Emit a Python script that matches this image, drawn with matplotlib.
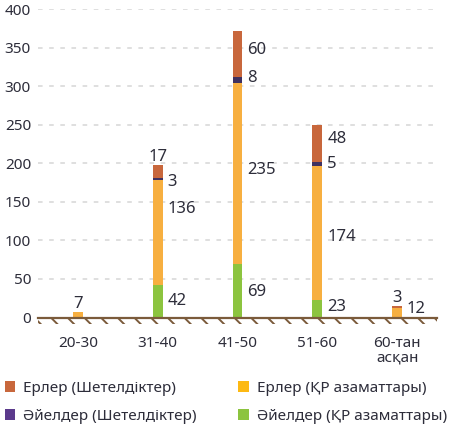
import matplotlib
matplotlib.use("Agg")
import matplotlib.pyplot as plt
from matplotlib.patches import Rectangle, Patch
import numpy as np

plt.rcParams['font.family'] = ['Noto Sans', 'DejaVu Sans']
plt.rcParams['hatch.linewidth'] = 1.4

categories = ["20-30", "31-40", "41-50", "51-60", "60-тан\nасқан"]
women_kz = [0, 42, 69, 23, 0]      # Әйелдер (ҚР азаматтары)
men_kz = [7, 136, 235, 174, 12]    # Ерлер (ҚР азаматтары)
women_for = [0, 3, 8, 5, 0]        # Әйелдер (Шетелдіктер)
men_for = [0, 17, 60, 48, 3]       # Ерлер (Шетелдіктер)
yticks = [0, 50, 100, 150, 200, 250, 300, 350, 400]

labels = ["Ерлер (Шетелдіктер)", "Әйелдер (Шетелдіктер)",
          "Ерлер (ҚР азаматтары)", "Әйелдер (ҚР азаматтары)"]

c_green = "#8CC43F"
c_orange = "#F7AF40"
c_purple = "#3F3160"
c_brown = "#C8673C"
leg_colors = ["#C8673C", "#5B3A8C", "#FDB913", "#8CC43F"]
txt = "#2D2D3A"

fig = plt.figure(figsize=(4.61, 4.40), dpi=100)
ax = fig.add_axes([38/461, 1-317.5/440, 399/461, 308.2/440])

x = np.arange(len(categories))
w = 0.125
series = [(women_kz, c_green), (men_kz, c_orange), (women_for, c_purple), (men_for, c_brown)]
bottom = np.zeros(len(categories))
bottoms = []
for vals, col in series:
    v = np.array(vals, dtype=float)
    ax.bar(x, v, w, bottom=bottom, color=col, zorder=3, linewidth=0)
    bottoms.append(bottom.copy())
    bottom = bottom + v

# label placement style: (series index, category index) -> (mode, dy in points)
label_style = {
    (1, 0): ('t', 0),
    (0, 1): ('r', 0), (1, 1): ('r', 17), (2, 1): ('r', -2), (3, 1): ('t', 0),
    (0, 2): ('r', -1), (1, 2): ('r', 3), (2, 2): ('r', 1.5), (3, 2): ('r', 3),
    (0, 3): ('r', 1.5), (1, 3): ('r', -3), (2, 3): ('r', 0), (3, 3): ('r', 3),
    (1, 4): ('r', 3), (3, 4): ('t', 0),
}
for (si, ci), (mode, dy) in label_style.items():
    val = series[si][0][ci]
    b = bottoms[si][ci]
    if mode == 'r':
        ax.annotate(str(val), (x[ci] + w/2, b + val/2), xytext=(3.5, dy),
                    textcoords='offset points', ha='left', va='center',
                    fontsize=12, color=txt, zorder=5)
    else:
        ax.annotate(str(val), (x[ci], b + val), xytext=(0, 0),
                    textcoords='offset points', ha='center', va='bottom',
                    fontsize=12, color=txt, zorder=5)

ax.set_xlim(-0.5, 4.5)
ax.set_ylim(0, 400)
ax.set_yticks(yticks)
ax.set_xticks(x)
ax.set_xticklabels(categories, linespacing=0.95)
ax.tick_params(axis='both', length=0, labelsize=11, labelcolor=txt)
ax.tick_params(axis='y', pad=5)
ax.tick_params(axis='x', pad=13)
for s in ax.spines.values():
    s.set_visible(False)
ax.yaxis.grid(True, color="#D6D6D6", linestyle=(0, (3, 4.3)), linewidth=1.1, zorder=0)

# baseline with hatching
ax.axhline(0, color="#7B5B3B", linewidth=1.6, zorder=4, clip_on=False)
hatch = Rectangle((-0.5, -9), 5.0, 9, facecolor='none', edgecolor="#7B5B3B",
                  hatch='\\\\', linewidth=0, clip_on=False, zorder=2)
ax.add_patch(hatch)

handles = [Patch(facecolor=c, edgecolor='none') for c in leg_colors]
fig.legend(handles, labels, ncol=2, loc='upper left', bbox_to_anchor=(0.0, 1-376/440),
           frameon=False, fontsize=11, handlelength=0.7, handleheight=0.7,
           handletextpad=0.5, labelspacing=0.85, columnspacing=2.75, labelcolor=txt,
           borderaxespad=0, borderpad=0.3)

fig.savefig("out.png", dpi=100)
